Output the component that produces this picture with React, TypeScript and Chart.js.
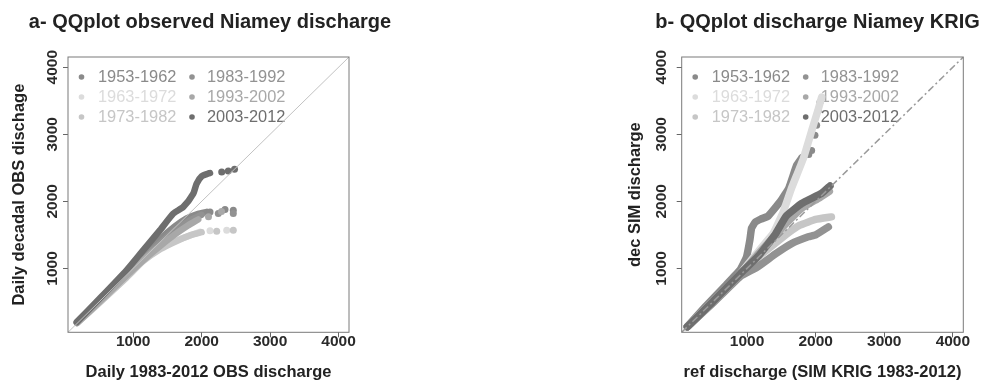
import React, { useEffect, useRef } from 'react';
import { Chart, registerables } from 'chart.js';

Chart.register(...registerables);
Chart.defaults.font.family = '"Liberation Sans", Arial, Helvetica, sans-serif';

type P = [number, number];

// ---------- shared ----------
const DECADES = ['1953-1962', '1963-1972', '1973-1982', '1983-1992', '1993-2002', '2003-2012'];
const DECADE_COLORS = ['#8a8a8a', '#dcdcdc', '#c6c6c6', '#929292', '#a8a8a8', '#6e6e6e'];
const TICKS = [1000, 2000, 3000, 4000];
const AXIS_MIN = 48;
const AXIS_MAX = 4152;
const DIAGONAL: P[] = [[AXIS_MIN, AXIS_MIN], [AXIS_MAX, AXIS_MAX]];

// ---------- panel a : observed ----------
const A_1953: P[] = [[180, 195], [500, 525], [900, 935], [1200, 1240], [1400, 1445], [1600, 1620], [1781, 1745], [1950, 1815], [2074, 1843]];
const A_1953_TAIL: P[] = [[2122, 1843], [2341, 1878], [2462, 1868]];
const A_1963: P[] = [[180, 185], [500, 490], [900, 870], [1148, 1124], [1400, 1300], [1636, 1421], [1800, 1480], [1976, 1545]];
const A_1963_TAIL: P[] = [[2122, 1560], [2366, 1570]];
const A_1973: P[] = [[180, 185], [500, 480], [900, 860], [1148, 1110], [1400, 1290], [1636, 1410], [1850, 1500], [2000, 1540]];
const A_1973_TAIL: P[] = [[2220, 1555], [2462, 1570]];
const A_1983: P[] = [[180, 190], [500, 505], [900, 905], [1200, 1200], [1400, 1380], [1600, 1560], [1800, 1700], [2000, 1800]];
const A_1983_TAIL: P[] = [[2243, 1819], [2462, 1819]];
const A_1993: P[] = [[180, 190], [500, 495], [900, 890], [1200, 1170], [1400, 1340], [1600, 1500], [1800, 1640], [1950, 1730]];
const A_1993_TAIL: P[] = [[2100, 1770], [2290, 1850]];
const A_2003: P[] = [[175, 200], [500, 540], [905, 975], [1148, 1273], [1392, 1570], [1586, 1819], [1732, 1917], [1878, 2116], [1927, 2265], [2001, 2374], [2097, 2414], [2122, 2423]];
const A_2003_TAIL: P[] = [[2293, 2438], [2389, 2453], [2480, 2478]];

// ---------- panel b : KRIG simulation ----------
const B_1953: P[] = [[130, 135], [400, 440], [700, 760], [900, 980], [993, 1173], [1041, 1421], [1066, 1600], [1120, 1690], [1200, 1735], [1308, 1780], [1490, 2005], [1610, 2200], [1723, 2537], [1800, 2650]];
const B_1953_TAIL: P[] = [[1900, 2700], [1942, 2760], [1990, 2985], [2015, 3133], [2039, 3356], [2063, 3479]];
const B_1963: P[] = [[130, 130], [500, 500], [900, 920], [1200, 1300], [1380, 1520], [1528, 1843], [1650, 2200], [1820, 2637], [1966, 3133], [2040, 3380], [2088, 3554]];
const B_1963_TAIL: P[] = [];
const B_1973: P[] = [[130, 130], [500, 490], [900, 900], [1150, 1160], [1406, 1372], [1600, 1530], [1771, 1645], [2000, 1730], [2230, 1768]];
const B_1973_TAIL: P[] = [];
const B_1983: P[] = [[130, 130], [500, 480], [900, 880], [1150, 1020], [1420, 1220], [1650, 1370], [1893, 1471], [2000, 1500], [2185, 1619]];
const B_1983_TAIL: P[] = [];
const B_1993: P[] = [[130, 130], [500, 495], [900, 910], [1150, 1200], [1400, 1480], [1600, 1700], [1800, 1900], [2050, 2050], [2200, 2150]];
const B_1993_TAIL: P[] = [];
const B_2003: P[] = [[130, 130], [500, 500], [900, 920], [1162, 1180], [1406, 1500], [1570, 1780], [1796, 1968], [2088, 2120], [2209, 2230]];
const B_2003_TAIL: P[] = [];

interface PanelCfg {
  title: string;
  xTitle: string;
  yTitle: string;
  series: P[][];
  tails: P[][];
  canvasLeft: number;
  canvasWidth: number;
  plotLeft: number;
  plotRight: number;
  plotTop: number;
  plotBottom: number;
  titleCenter: number;
  yTitlePad: number;
  yTickPad: number;
  lineWidth: number;
  tension: number;
  diagColor: string;
  diagWidth: number;
  diagDash: number[];
}

const PANELS: PanelCfg[] = [
  {
    title: 'a- QQplot observed Niamey discharge',
    xTitle: 'Daily 1983-2012 OBS discharge',
    yTitle: 'Daily decadal OBS dischage',
    series: [A_1953, A_1963, A_1973, A_1983, A_1993, A_2003],
    tails: [A_1953_TAIL, A_1963_TAIL, A_1973_TAIL, A_1983_TAIL, A_1993_TAIL, A_2003_TAIL],
    canvasLeft: 0,
    canvasWidth: 400,
    plotLeft: 68,
    plotRight: 349,
    plotTop: 57,
    plotBottom: 332.3,
    titleCenter: 210,
    yTitlePad: 10,
    yTickPad: -7,
    lineWidth: 6.5,
    tension: 0.2,
    diagColor: '#c2c2c2',
    diagWidth: 1,
    diagDash: [],
  },
  {
    title: 'b- QQplot discharge Niamey KRIG',
    xTitle: 'ref discharge (SIM KRIG 1983-2012)',
    yTitle: 'dec SIM discharge',
    series: [B_1953, B_1963, B_1973, B_1983, B_1993, B_2003],
    tails: [B_1953_TAIL, B_1963_TAIL, B_1973_TAIL, B_1983_TAIL, B_1993_TAIL, B_2003_TAIL],
    canvasLeft: 590,
    canvasWidth: 395,
    plotLeft: 681.7,
    plotRight: 963.3,
    plotTop: 57,
    plotBottom: 332.3,
    titleCenter: 817.5,
    yTitlePad: 36,
    yTickPad: -2,
    lineWidth: 7.5,
    tension: 0.1,
    diagColor: '#9a9a9a',
    diagWidth: 1.5,
    diagDash: [7, 3, 2, 3],
  },
];

const FONT = '"Liberation Sans", Arial, Helvetica, sans-serif';
const H = 385;

function toXY(pts: P[]) {
  return pts.map(([x, y]) => ({ x, y }));
}

function makeChart(canvas: HTMLCanvasElement, cfg: PanelCfg) {
  const datasets: any[] = [];
  cfg.series.forEach((pts, i) => {
    const color = DECADE_COLORS[i];
    datasets.push({
      label: DECADES[i],
      data: toXY(pts),
      showLine: true,
      borderColor: color,
      backgroundColor: color,
      borderWidth: cfg.lineWidth,
      borderCapStyle: 'round',
      borderJoinStyle: 'round',
      pointRadius: 0,
      tension: cfg.tension,
      order: 20 - i * 2,
    });
    datasets.push({
      label: DECADES[i] + ' tail',
      data: toXY(cfg.tails[i]),
      showLine: false,
      pointRadius: 3.5,
      pointBackgroundColor: color,
      pointBorderColor: color,
      pointBorderWidth: 0,
      order: 19 - i * 2,
    });
  });
  datasets.push({
    label: '1:1',
    data: toXY(DIAGONAL),
    showLine: true,
    borderColor: cfg.diagColor,
    borderWidth: cfg.diagWidth,
    borderDash: cfg.diagDash,
    pointRadius: 0,
    order: 0,
  });

  const off = cfg.canvasLeft;

  const decor = {
    id: 'decor',
    beforeDatasetsDraw(chart: any) {
      const { ctx, chartArea: a } = chart;
      ctx.save();
      ctx.font = `16.4px ${FONT}`;
      ctx.textBaseline = 'middle';
      ctx.textAlign = 'left';
      DECADES.forEach((name, i) => {
        const col = Math.floor(i / 3);
        const row = i % 3;
        const mx = a.left + 13.5 + col * 110.5;
        const tx = a.left + 30 + col * 109;
        const y = a.top + 20 + row * 20;
        ctx.fillStyle = DECADE_COLORS[i];
        ctx.beginPath();
        ctx.arc(mx, y, 2.8, 0, Math.PI * 2);
        ctx.fill();
        ctx.fillText(name, tx, y + 0.5);
      });
      ctx.restore();
    },
    afterDraw(chart: any) {
      const { ctx, chartArea: a } = chart;
      ctx.save();
      ctx.strokeStyle = '#7a7a7a';
      ctx.lineWidth = 1;
      ctx.strokeRect(a.left, a.top, a.right - a.left, a.bottom - a.top);
      ctx.fillStyle = '#222';
      ctx.font = `bold 20px ${FONT}`;
      ctx.textAlign = 'center';
      ctx.textBaseline = 'alphabetic';
      ctx.fillText(cfg.title, cfg.titleCenter - off, 27.5);
      ctx.restore();
    },
  };

  const tickFont = { size: 15.5, weight: 'bold' as const, family: FONT, lineHeight: 1.2 };
  const titleFont = { size: 16.5, weight: 'bold' as const, family: FONT, lineHeight: 1.2 };

  return new Chart(canvas, {
    type: 'scatter',
    data: { datasets },
    plugins: [decor],
    options: {
      animation: false,
      responsive: false,
      devicePixelRatio: 1,
      layout: {
        padding: {
          top: cfg.plotTop,
          left: 0,
          bottom: 0,
          right: cfg.canvasWidth - (cfg.plotRight - off),
        },
      },
      plugins: {
        legend: { display: false },
        tooltip: { enabled: false },
        title: { display: false },
      },
      scales: {
        x: {
          type: 'linear',
          min: AXIS_MIN,
          max: AXIS_MAX,
          afterBuildTicks: (s: any) => {
            s.ticks = TICKS.map((v) => ({ value: v }));
          },
          afterFit: (s: any) => {
            s.height = H - cfg.plotBottom;
          },
          border: { display: false },
          grid: { display: true, drawOnChartArea: false, drawTicks: true, tickLength: 5, color: '#666' },
          ticks: {
            callback: (v: any) => String(v),
            font: tickFont,
            color: '#2a2a2a',
            padding: -5,
            maxRotation: 0,
            autoSkip: false,
          },
          title: {
            display: true,
            text: cfg.xTitle,
            font: titleFont,
            color: '#222',
            padding: { top: 0, bottom: 2.5 },
          },
        },
        y: {
          type: 'linear',
          min: AXIS_MIN,
          max: AXIS_MAX,
          afterBuildTicks: (s: any) => {
            s.ticks = TICKS.map((v) => ({ value: v }));
          },
          afterFit: (s: any) => {
            s.width = cfg.plotLeft - off;
          },
          border: { display: false },
          grid: { display: true, drawOnChartArea: false, drawTicks: true, tickLength: 5, color: '#666' },
          ticks: {
            callback: (v: any) => String(v),
            font: tickFont,
            color: '#2a2a2a',
            minRotation: 90,
            maxRotation: 90,
            crossAlign: 'center',
            padding: cfg.yTickPad,
            autoSkip: false,
          },
          title: {
            display: true,
            text: cfg.yTitle,
            font: titleFont,
            color: '#222',
            padding: { top: cfg.yTitlePad, bottom: 0 },
          },
        },
      },
    } as any,
  });
}

function Panel({ cfg }: { cfg: PanelCfg }) {
  const ref = useRef<HTMLCanvasElement | null>(null);
  useEffect(() => {
    if (!ref.current) return;
    const chart = makeChart(ref.current, cfg);
    return () => chart.destroy();
  }, [cfg]);
  return (
    <canvas
      ref={ref}
      width={cfg.canvasWidth}
      height={H}
      style={{ position: 'absolute', left: cfg.canvasLeft, top: 0, width: cfg.canvasWidth, height: H }}
    />
  );
}

export default function App() {
  return (
    <div style={{ position: 'absolute', left: 0, top: 0, width: 985, height: H, background: '#ffffff', overflow: 'hidden' }}>
      {PANELS.map((p) => (
        <Panel key={p.title} cfg={p} />
      ))}
    </div>
  );
}
